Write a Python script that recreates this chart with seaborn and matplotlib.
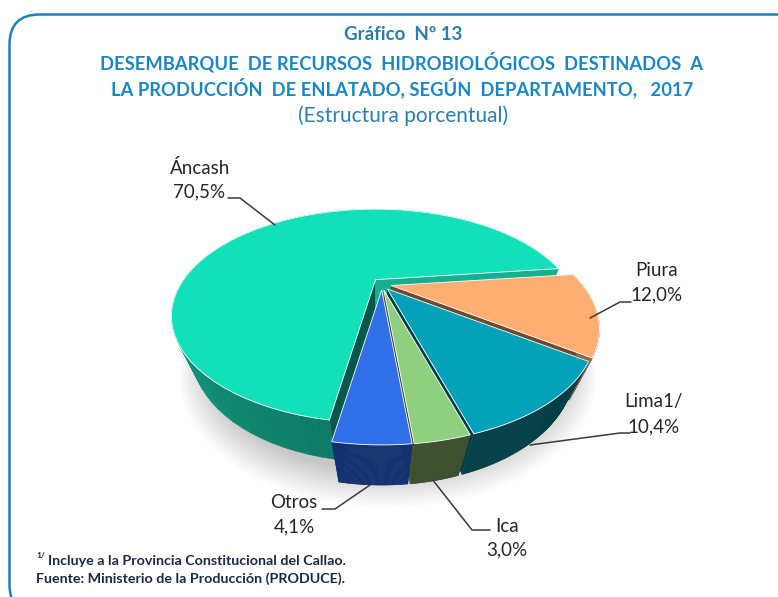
import numpy as np
import matplotlib
matplotlib.use("Agg")
import matplotlib.pyplot as plt
from matplotlib.patches import FancyBboxPatch
import seaborn as sns

departamentos = ["Piura", "Lima1/", "Ica", "Otros", "Áncash"]
valores = [12.0, 10.4, 3.0, 4.1, 70.5]
etiquetas = ["12,0%", "10,4%", "3,0%", "4,1%", "70,5%"]

colores_top = ["#ffae73", "#04a2b8", "#8ecf80", "#2f6fe8", "#12e0b8"]
colores_arco = [["#8a6a48", "#8a6a48"], ["#033f47", "#033f47"], ["#3f5030", "#3f5030"],
                ["#13306f", "#13306f"], ["#0e7c66", "#14a385", "#17b08f", "#17b08f"]]
colores_pared_ini = ["#6b4a2e", "#034a50", "#5c6b52", "#13306f", "#07584a"]
colores_pared_fin = ["#6b4a2e", "#033f47", "#3f5030", "#13306f", "#17b08f"]

AZUL = "#1f7dbd"
INICIO = 7.0
CX, CY = 382, 284
RX, RY = 192, 94.5
PERSP = [0.39, 0.39, 0.39, 0.39, 0.34]
M = 0.10
ALTO = 44
EXPLODE_X, EXPLODE_Y = 9.3, 6.0


def proyecta(x, y, z=0.0, k=0.39):
    w = 1 + k * y + M * z
    return CX + RX * x / w, CY - RY * y / w + ALTO * z / w


def arco(a0, a1, z=0.0, k=0.39, n=80):
    t = np.radians(np.linspace(a0, a1, n))
    return proyecta(np.cos(t), np.sin(t), z, k)


sns.set_theme(style="white")
plt.rcParams["font.family"] = ["Lato", "DejaVu Sans"]
fig = plt.figure(figsize=(7.78, 5.97), dpi=100)
ax = fig.add_axes([0, 0, 1, 1])
ax.set_xlim(0, 778)
ax.set_ylim(597, 0)
ax.axis("off")

ax.add_patch(FancyBboxPatch((9.5, 14.5), 796, 600, boxstyle="round,pad=0,rounding_size=30",
                            fc="white", ec=AZUL, lw=1.8, mutation_aspect=1))

# sombra difusa bajo la torta
for s in np.linspace(1.1, 0.96, 14):
    t = np.radians(np.linspace(0, 360, 120))
    xs, ys = proyecta(np.cos(t) * s, np.sin(t) * s, 1.0)
    ax.fill(xs + 6, ys + 3, color="black", alpha=0.016, lw=0)

# lineas guia, quedan por debajo de la torta
guias = [
    ([590, 620, 631], [318, 302, 302]),
    ([530, 620, 630], [445, 433, 433]),
    ([432, 472, 490], [479, 530, 530]),
    ([370, 335, 322], [485, 509, 509]),
    ([228, 240, 275], [198, 198, 225]),
]
for xs, ys in guias:
    ax.plot(xs, ys, color="#3a3a3a", lw=1.1)

angulo = INICIO
tramos = []
for v in valores:
    a1 = angulo - v * 3.6
    tramos.append((angulo, a1))
    angulo = a1

# de atras hacia adelante
for i in [4, 0, 1, 2, 3]:
    a0, a1 = tramos[i]
    k = PERSP[i]
    medio = np.radians((a0 + a1) / 2)
    dx, dy = EXPLODE_X * np.cos(medio), -EXPLODE_Y * np.sin(medio)
    ax_top, ay_top = proyecta(0, 0, 0, k)
    ax_bot, ay_bot = proyecta(0, 0, 1.0, k)
    ax_top, ay_top, ax_bot, ay_bot = ax_top + dx, ay_top + dy, ax_bot + dx, ay_bot + dy
    for ang, col in [(a0, colores_pared_ini[i]), (a1, colores_pared_fin[i])]:
        rx_top, ry_top = arco(ang, ang, 0, k, n=1)
        rx_bot, ry_bot = arco(ang, ang, 1.0, k, n=1)
        ax.fill([ax_top, rx_top[0] + dx, rx_bot[0] + dx, ax_bot],
                [ay_top, ry_top[0] + dy, ry_bot[0] + dy, ay_bot], color=col, lw=0)
    xt, yt = arco(a0, a1, 0, k)
    xb, yb = arco(a0, a1, 1.0, k)
    tonos = sns.blend_palette(colores_arco[i], len(xt) - 1)
    for j in range(len(xt) - 1):
        ax.fill([xt[j] + dx, xt[j + 1] + dx, xb[j + 1] + dx, xb[j] + dx],
                [yt[j] + dy, yt[j + 1] + dy, yb[j + 1] + dy, yb[j] + dy],
                fc=tonos[j], ec=tonos[j], lw=0.4)
    ax.fill(np.r_[ax_top, xt + dx], np.r_[ay_top, yt + dy], fc=colores_top[i], ec="white", lw=0.6)

pos_nombre = [(657, 271), (654, 402), (507, 526), (294, 503), (200, 168)]
pos_valor = [(657, 295), (654, 427), (507, 550), (294, 527), (199, 192)]
for nom, val, pn, pv in zip(departamentos, etiquetas, pos_nombre, pos_valor):
    ax.text(*pn, nom, ha="center", va="center", fontsize=13.5, color="#262626")
    ax.text(*pv, val, ha="center", va="center", fontsize=13.5, color="#262626")

ax.text(403, 35, "Gráfico  Nº 13", ha="center", va="center", fontsize=13.5, fontweight="bold", color="#2b7fa6")
ax.text(402, 62, "DESEMBARQUE  DE RECURSOS  HIDROBIOLÓGICOS  DESTINADOS  A",
        ha="center", va="center", fontsize=13.2, fontweight="bold", color="#1b86c4")
ax.text(402, 88, "LA PRODUCCIÓN  DE ENLATADO, SEGÚN  DEPARTAMENTO,   2017",
        ha="center", va="center", fontsize=13.2, fontweight="bold", color="#1b86c4")
ax.text(403, 116, "(Estructura porcentual)", ha="center", va="center", fontsize=15, color="#2b7fb0")

ax.text(36, 556, "1/", ha="left", va="center", fontsize=6, fontweight="bold", color="#1a2a44")
ax.text(48, 561, "Incluye a la Provincia Constitucional del Callao.", ha="left", va="center",
        fontsize=10.3, fontweight="bold", color="#1a2a44")
ax.text(36, 579, "Fuente: Ministerio de la Producción (PRODUCE).", ha="left", va="center",
        fontsize=10.3, fontweight="bold", color="#1a2a44")

fig.savefig("out.png", dpi=100)
